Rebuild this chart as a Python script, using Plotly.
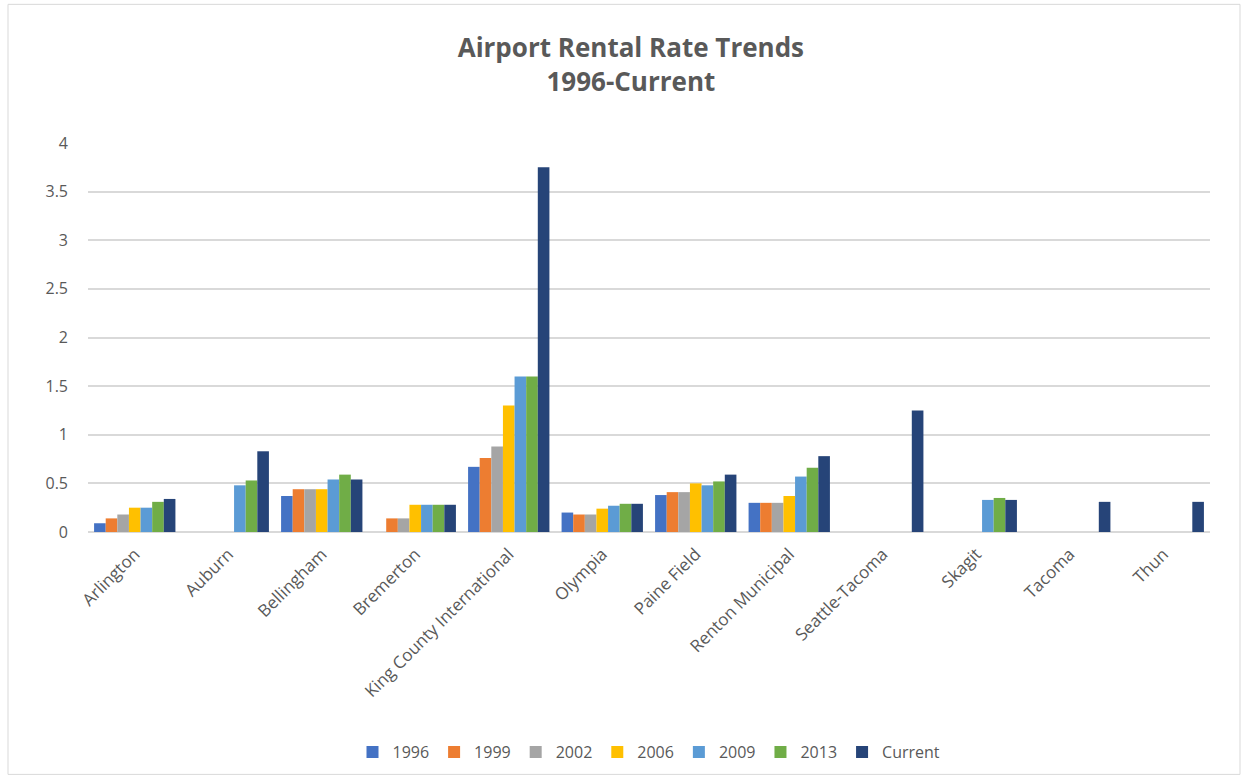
import plotly.graph_objects as go

categories = ["Arlington", "Auburn", "Bellingham", "Bremerton", "King County International",
              "Olympia", "Paine Field", "Renton Municipal", "Seattle-Tacoma", "Skagit", "Tacoma", "Thun"]
series_names = ["1996", "1999", "2002", "2006", "2009", "2013", "Current"]
v1996 = [0.09, None, 0.37, None, 0.67, 0.20, 0.38, 0.30, None, None, None, None]
v1999 = [0.14, None, 0.44, 0.14, 0.76, 0.18, 0.41, 0.30, None, None, None, None]
v2002 = [0.18, None, 0.44, 0.14, 0.88, 0.18, 0.41, 0.30, None, None, None, None]
v2006 = [0.25, None, 0.44, 0.28, 1.30, 0.24, 0.50, 0.37, None, None, None, None]
v2009 = [0.25, 0.48, 0.54, 0.28, 1.60, 0.27, 0.48, 0.57, None, 0.33, None, None]
v2013 = [0.31, 0.53, 0.59, 0.28, 1.60, 0.29, 0.52, 0.66, None, 0.35, None, None]
vcurrent = [0.34, 0.83, 0.54, 0.28, 3.75, 0.29, 0.59, 0.78, 1.25, 0.33, 0.31, 0.31]
colors = ["#4472C4", "#ED7D31", "#A5A5A5", "#FFC000", "#5B9BD5", "#70AD47", "#264478"]
y_ticks = [0, 0.5, 1, 1.5, 2, 2.5, 3, 3.5, 4]
y_ticklabels = ["0", "0.5", "1", "1.5", "2", "2.5", "3", "3.5", "4"]

all_series = [v1996, v1999, v2002, v2006, v2009, v2013, vcurrent]

fig = go.Figure()
for name, vals, col in zip(series_names, all_series, colors):
    fig.add_trace(go.Bar(x=categories, y=vals, name=name,
                         marker=dict(color=col, line=dict(width=0))))

font_family = "Open Sans, sans-serif"
fig.update_layout(
    width=1248, height=780,
    paper_bgcolor="white", plot_bgcolor="white",
    barmode="group", bargap=0.13, bargroupgap=0,
    margin=dict(l=88, r=38, t=143, b=247),
    title=dict(text="<b>Airport Rental Rate Trends<br>1996-Current</b>",
               x=0.5055, xanchor="center", y=(780 - 57) / 780, yanchor="top",
               font=dict(family=font_family, size=26, color="#595959")),
    font=dict(family=font_family, size=16, color="#595959"),
    legend=dict(orientation="h", x=0.5, xanchor="center", y=(533 - 752) / 390, yanchor="middle",
                font=dict(size=16, color="#595959"), traceorder="normal",
                itemwidth=30),
    xaxis=dict(tickangle=-45, showgrid=False, showline=False, ticks="",
               ticklabelstandoff=8,
               tickfont=dict(size=17, color="#595959")),
    yaxis=dict(range=[0, 4], tickvals=y_ticks, ticktext=y_ticklabels,
               showgrid=True, gridcolor="#D9D9D9", gridwidth=2,
               zeroline=True, zerolinecolor="#D9D9D9", zerolinewidth=2,
               ticks="", showline=False, ticklabelstandoff=19,
               tickfont=dict(size=16, color="#595959")),
    shapes=[dict(type="rect", xref="paper", yref="paper",
                 x0=(8 - 88) / 1122, x1=(1240 - 88) / 1122,
                 y0=(533 - 776) / 390, y1=(533 - 4) / 390,
                 line=dict(color="#D9D9D9", width=1), fillcolor="rgba(0,0,0,0)")],
)

fig.write_html("out.html")
